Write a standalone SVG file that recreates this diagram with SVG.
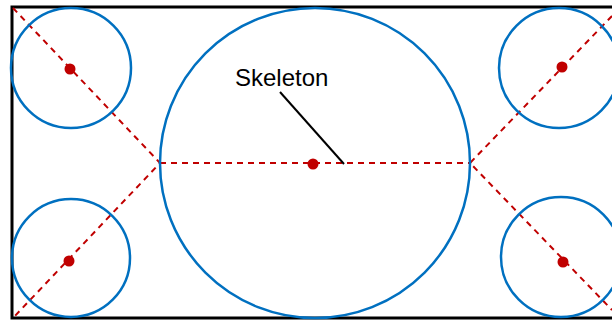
<svg xmlns="http://www.w3.org/2000/svg" width="612" height="323" viewBox="0 0 612 323">
<style>
.c{fill:none;stroke:#0070C0;stroke-width:2.5}
.d{fill:#C00000}
.s{fill:none;stroke:#C00000;stroke-width:2;stroke-dasharray:6 5}
.t{font-family:"Liberation Sans",Arial,sans-serif;font-size:24px;fill:#000}
</style>
<rect x="12" y="7" width="610" height="311" fill="#fff" stroke="#000" stroke-width="3"/>
<g id="connectors">
<path class="s" d="M13,8 L160,163 L13,318"/>
<path class="s" d="M160,163 H470"/>
<path class="s" d="M612,16 L470,163 L612,310"/>
<line x1="280" y1="92" x2="344" y2="164" stroke="#000" stroke-width="2"/>
</g>
<g id="circle-tl"><circle class="c" cx="71" cy="68" r="60"/><circle class="d" cx="70" cy="69" r="5.5"/></g>
<g id="circle-tr"><circle class="c" cx="559" cy="68" r="60"/><circle class="d" cx="562" cy="67" r="5.5"/></g>
<g id="circle-bl"><circle class="c" cx="71" cy="258" r="59"/><circle class="d" cx="69" cy="261" r="5.5"/></g>
<g id="circle-br"><circle class="c" cx="561" cy="257" r="60"/><circle class="d" cx="563" cy="262" r="5.5"/></g>
<g id="circle-center"><circle class="c" cx="315" cy="163" r="155"/><circle class="d" cx="313" cy="164" r="5.5"/></g>
<g id="label"><text class="t" x="235" y="86">Skeleton</text></g>
</svg>
